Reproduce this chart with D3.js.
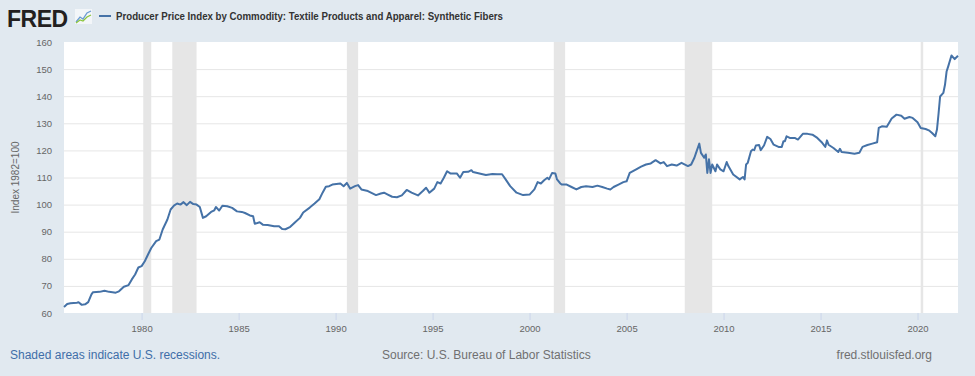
<!DOCTYPE html>
<html>
<head>
<meta charset="utf-8">
<script src="https://cdn.jsdelivr.net/npm/d3@7"></script>
<style>
  body { margin: 0; background: #e1e9f0; }
  svg { display: block; font-family: "Liberation Sans", Arial, sans-serif; }
</style>
</head>
<body>
<div class="canvas"></div>
<script>
const dates = [
  "1976-01","1976-03","1976-05","1976-09","1976-10","1976-12","1977-02","1977-04","1977-06","1977-07",
  "1977-11","1978-02","1978-05","1978-09","1978-11","1979-02","1979-05","1979-07","1979-09","1979-11",
  "1980-01","1980-03","1980-05","1980-07","1980-10","1980-12","1981-02","1981-05","1981-07","1981-09",
  "1981-11","1982-01","1982-03","1982-05","1982-07","1982-09","1982-11","1983-01","1983-03","1983-05",
  "1983-08","1983-10","1983-11","1984-01","1984-03","1984-06","1984-09","1984-12","1985-03","1985-05",
  "1985-08","1985-10","1985-11","1986-02","1986-04","1986-07","1986-11","1987-02","1987-04","1987-06",
  "1987-09","1987-12","1988-03","1988-05","1988-09","1988-12","1989-03","1989-05","1989-07","1989-09",
  "1989-11","1990-04","1990-06","1990-08","1990-10","1991-01","1991-03","1991-05","1991-09","1992-02",
  "1992-05","1992-07","1992-09","1992-12","1993-03","1993-06","1993-09","1993-12","1994-04","1994-07",
  "1994-09","1994-11","1995-02","1995-04","1995-06","1995-08","1995-10","1995-12","1996-04","1996-06",
  "1996-08","1996-11","1997-01","1997-02","1997-06","1997-10","1998-02","1998-05","1998-08","1998-10",
  "1999-01","1999-05","1999-09","2000-01","2000-04","2000-06","2000-08","2000-10","2000-12","2001-01",
  "2001-03","2001-05","2001-06","2001-08","2001-09","2001-12","2002-03","2002-06","2002-09","2002-12",
  "2003-04","2003-07","2003-10","2004-01","2004-03","2004-05","2004-08","2004-11","2005-01","2005-03",
  "2005-07","2005-10","2006-01","2006-04","2006-07","2006-10","2006-12","2007-02","2007-05","2007-08",
  "2007-11","2008-03","2008-05","2008-07","2008-08","2008-10","2008-11","2009-01","2009-02","2009-03",
  "2009-04","2009-05","2009-06","2009-08","2009-09","2009-11","2010-01","2010-03","2010-04","2010-07",
  "2010-11","2011-01","2011-02","2011-03","2011-04","2011-06","2011-07","2011-08","2011-09","2011-11",
  "2011-12","2012-02","2012-04","2012-06","2012-08","2012-11","2013-01","2013-02","2013-03","2013-04",
  "2013-06","2013-09","2013-11","2014-02","2014-05","2014-08","2014-11","2015-02","2015-04","2015-05",
  "2015-06","2015-09","2015-12","2016-01","2016-02","2016-06","2016-10","2017-01","2017-03","2017-06",
  "2017-09","2017-12","2018-01","2018-03","2018-06","2018-09","2018-12","2019-03","2019-05","2019-08",
  "2019-10","2020-01","2020-03","2020-06","2020-08","2020-10","2020-12","2021-01","2021-02","2021-03",
  "2021-05","2021-06","2021-07","2021-08","2021-10","2021-12","2022-02"
];
const values = [
  62.2,63.3,63.6,63.8,64.0,63.0,63.2,64.0,66.9,67.7,
  67.8,68.2,67.8,67.5,68.0,69.7,70.3,72.4,74.2,76.8,
  77.3,79.1,81.6,84.0,86.5,87.1,90.8,94.5,98.2,99.6,
  100.4,100.0,100.9,99.8,101.0,100.2,100.0,99.1,95.1,95.7,
  97.3,97.9,99.1,97.8,99.6,99.4,98.8,97.5,97.3,96.9,
  96.0,95.7,92.9,93.5,92.6,92.5,92.0,92.0,91.0,90.9,
  91.8,93.5,95.1,97.1,98.9,100.4,102.0,104.4,106.6,106.8,
  107.4,107.8,106.8,108.0,105.9,106.8,107.2,105.6,105.0,103.5,
  104.1,104.4,103.8,102.9,102.7,103.4,105.4,104.4,103.4,105.0,
  106.2,104.4,105.9,108.3,107.8,109.9,112.3,111.5,111.5,109.9,
  112.0,112.1,112.7,112.0,111.5,110.9,111.3,111.2,111.2,109.5,
  106.8,104.4,103.5,103.7,105.6,108.3,107.8,109.0,109.9,109.3,
  111.7,111.5,109.3,107.8,107.4,107.4,106.5,105.6,106.5,106.8,
  106.5,107.0,106.5,105.9,105.6,106.5,107.4,108.3,108.6,111.7,
  113.0,114.0,114.8,115.2,116.4,115.2,115.7,114.2,114.8,114.4,
  115.4,114.2,114.8,117.3,119.1,122.5,119.1,117.3,118.5,111.7,
  116.7,111.7,114.8,112.3,114.8,113.0,112.3,115.7,114.2,111.1,
  109.3,110.2,109.3,114.8,115.4,119.7,120.3,120.1,121.8,122.0,
  120.1,121.8,125.0,124.2,122.1,121.3,121.3,123.4,123.4,125.2,
  124.6,124.6,124.0,126.1,126.1,125.8,124.6,122.8,121.3,123.7,
  122.1,120.9,119.4,120.6,119.4,119.1,118.8,119.1,121.3,122.0,
  122.5,123.0,128.3,128.9,128.7,131.8,133.2,132.8,131.7,132.3,
  132.0,130.4,128.3,127.9,127.4,126.4,125.2,127.7,133.8,139.9,
  141.2,144.2,149.1,151.0,155.0,153.7,154.9
];
// NBER recessions (peak, trough)
const recessionStarts = ["1980-02","1981-08","1990-08","2001-04","2008-01","2020-03"];
const recessionEnds   = ["1980-07","1982-11","1991-03","2001-11","2009-06","2020-04"];
const yTicks = [60, 70, 80, 90, 100, 110, 120, 130, 140, 150, 160];
const xTickYears = [1980, 1985, 1990, 1995, 2000, 2005, 2010, 2015, 2020];

const title = "Producer Price Index by Commodity: Textile Products and Apparel: Synthetic Fibers";

const parse = d3.timeParse("%Y-%m");
const data = dates.map((d, i) => ({ date: parse(d), value: values[i] }));

const w = 975;
const h = 376;
const margin = { top: 42, right: 17, bottom: 63, left: 64 };
const graphWidth = w - margin.left - margin.right;
const graphHeight = h - margin.top - margin.bottom;

const svg = d3.select(".canvas").append("svg").attr("width", w).attr("height", h);

svg.append("rect").attr("width", w).attr("height", h).attr("fill", "#e1e9f0");

// header: logo + legend/title
const logo = svg.append("g");
logo.append("text")
  .attr("x", 7).attr("y", 27)
  .attr("font-size", 23).attr("font-weight", "bold")
  .attr("letter-spacing", -0.5)
  .attr("fill", "#231f20")
  .text("FRED");
const icon = logo.append("g").attr("transform", "translate(75,9)");
icon.append("rect").attr("width", 17).attr("height", 15).attr("fill", "#ffffff").attr("opacity", 0.6);
icon.append("path").attr("d", "M1,13 L5,8 L8,10 L12,4 L16,2").attr("fill", "none").attr("stroke", "#6b9bd2").attr("stroke-width", 1.3);
icon.append("path").attr("d", "M1,14 L5,11 L8,12 L12,8 L16,6").attr("fill", "none").attr("stroke", "#8cc63f").attr("stroke-width", 1.3);

svg.append("line")
  .attr("x1", 99).attr("x2", 111).attr("y1", 16).attr("y2", 16)
  .attr("stroke", "#4572a7").attr("stroke-width", 2);
svg.append("text")
  .attr("x", 116).attr("y", 20)
  .attr("font-size", 11.5).attr("font-weight", "bold")
  .attr("fill", "#333333")
  .attr("textLength", 387).attr("lengthAdjust", "spacingAndGlyphs")
  .text(title);

// scales
const x = d3.scaleTime()
  .domain([parse("1976-01"), parse("2022-02")])
  .range([0, graphWidth]);
const y = d3.scaleLinear()
  .domain([60, 160])
  .range([graphHeight, 0]);

const graph = svg.append("g").attr("transform", `translate(${margin.left}, ${margin.top})`);

graph.append("rect").attr("width", graphWidth).attr("height", graphHeight).attr("fill", "#ffffff");

// recession shading
graph.selectAll("rect.rec")
  .data(recessionStarts.map((s, i) => ({ start: parse(s), end: parse(recessionEnds[i]) })))
  .enter()
  .append("rect")
  .attr("class", "rec")
  .attr("x", d => x(d.start))
  .attr("width", d => Math.max(2.5, x(d.end) - x(d.start)))
  .attr("y", 0)
  .attr("height", graphHeight)
  .attr("fill", "#e6e6e6");

// y axis with gridlines
const yAxisGroup = graph.append("g");
yAxisGroup.call(d3.axisLeft(y).tickValues(yTicks).tickSize(-graphWidth).tickPadding(12));
yAxisGroup.select(".domain").remove();
yAxisGroup.selectAll(".tick line").attr("stroke", "#e6e6e6");
yAxisGroup.selectAll(".tick").filter(d => d === 60 || d === 160).select("line").remove();
yAxisGroup.selectAll(".tick text")
  .attr("font-family", "Liberation Sans, Arial, sans-serif")
  .attr("font-size", 9.5).attr("fill", "#666666");

// x axis
const xAxisGroup = graph.append("g").attr("transform", `translate(0, ${graphHeight})`);
xAxisGroup.call(
  d3.axisBottom(x)
    .tickValues(xTickYears.map(yr => new Date(yr, 0, 1)))
    .tickFormat(d3.timeFormat("%Y"))
    .tickSize(7)
    .tickPadding(5)
);
xAxisGroup.select(".domain").remove();
xAxisGroup.selectAll(".tick line").attr("stroke", "#ccd6eb");
xAxisGroup.selectAll(".tick text")
  .attr("font-family", "Liberation Sans, Arial, sans-serif")
  .attr("font-size", 9.5).attr("fill", "#666666");

// the series line
const line = d3.line().x(d => x(d.date)).y(d => y(d.value));
graph.append("path")
  .datum(data)
  .attr("fill", "none")
  .attr("stroke", "#4572a7")
  .attr("stroke-width", 2)
  .attr("stroke-linejoin", "round")
  .attr("d", line);

// y axis label
svg.append("text")
  .attr("transform", `translate(19, ${margin.top + graphHeight / 2}) rotate(-90)`)
  .attr("text-anchor", "middle")
  .attr("font-size", 10).attr("fill", "#666666")
  .text("Index 1982=100");

// footer
svg.append("text").attr("x", 10).attr("y", 359)
  .attr("font-size", 12).attr("fill", "#3f6ea8")
  .text("Shaded areas indicate U.S. recessions.");
svg.append("text").attr("x", 382).attr("y", 359)
  .attr("font-size", 12).attr("fill", "#707070")
  .text("Source: U.S. Bureau of Labor Statistics");
svg.append("text").attr("x", 932).attr("y", 359)
  .attr("text-anchor", "end")
  .attr("font-size", 12).attr("fill", "#707070")
  .text("fred.stlouisfed.org");
</script>
</body>
</html>
